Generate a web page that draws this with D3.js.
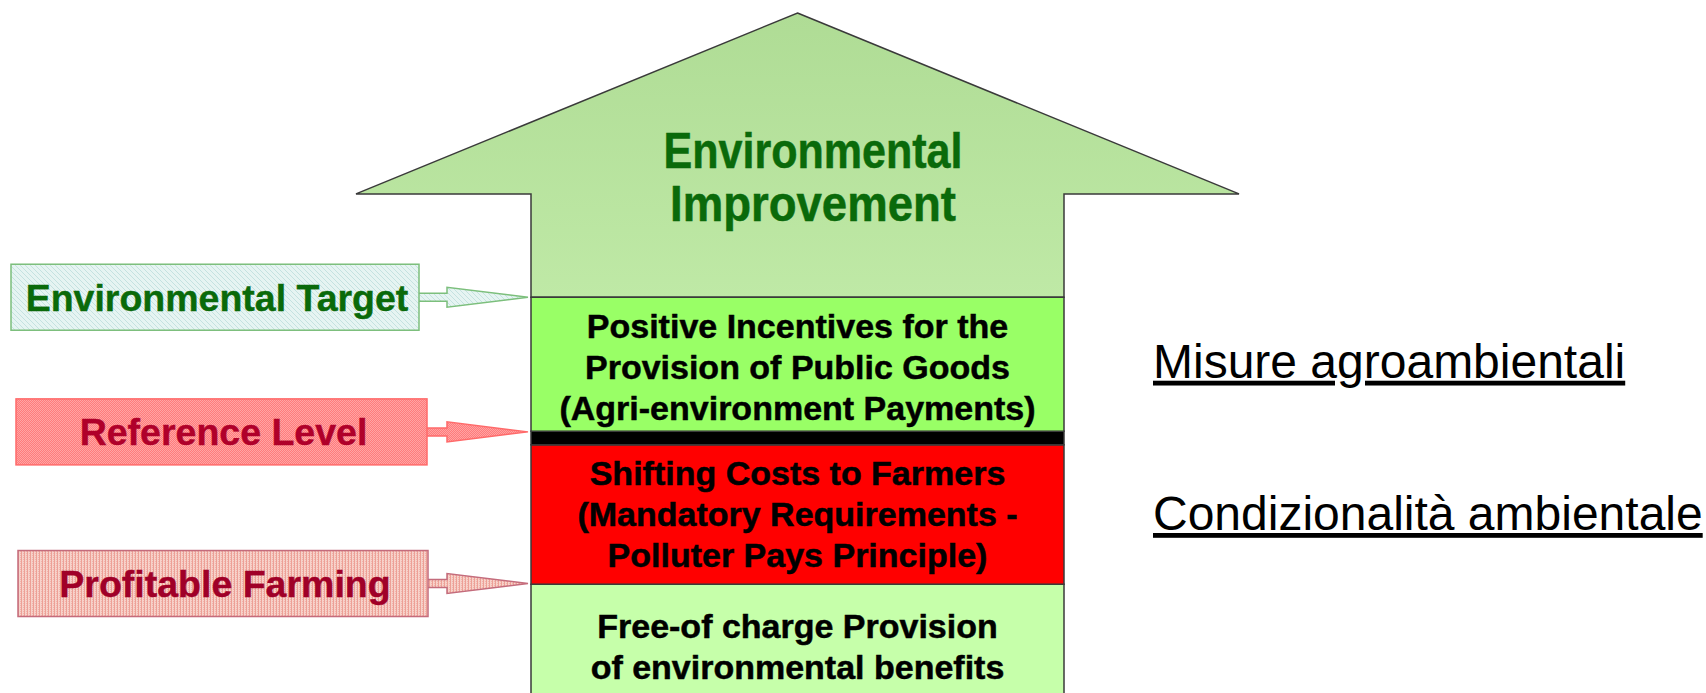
<!DOCTYPE html>
<html>
<head>
<meta charset="utf-8">
<script src="https://cdn.jsdelivr.net/npm/d3@7"></script>
<style>
  html, body { margin: 0; padding: 0; background: #fff; overflow: hidden; }
  svg { display: block; }
</style>
</head>
<body>
<div id="chart"></div>
<script>
// levels along the big arrow: 0 = bottom of picture, 100 = arrow tip
const bandNames = ['free', 'shifting', 'threshold', 'incentives', 'improvement'];
const bandFrom = [-2.5, 16.0, 36.5, 38.5, 58.2];
const bandTo = [16.0, 36.5, 38.5, 58.2, 73.4];
const bandLines = [
  ['Free-of charge Provision', 'of environmental benefits'],
  ['Shifting Costs to Farmers', '(Mandatory Requirements -', 'Polluter Pays Principle)'],
  [],
  ['Positive Incentives for the', 'Provision of Public Goods', '(Agri-environment Payments)'],
  ['Environmental', 'Improvement']
];
const tipLevel = 100;

const markerLabels = ['Environmental Target', 'Reference Level', 'Profitable Farming'];
const markerLevels = [58.2, 38.4, 16.1];

const noteLabels = ['Misure agroambientali', 'Condizionalità ambientale'];
const noteBands = ['incentives', 'shifting'];

// styles
const bandFill = {
  free: '#c6ffaa', shifting: '#ff0000', threshold: '#000000',
  incentives: '#99ff66', improvement: 'url(#topGrad)'
};
const markerStyle = [
  { fill: 'url(#patEnv)', stroke: '#7cbf7c', text: '#0a6a0a', x0: 11, x1: 419 },
  { fill: 'url(#patRef)', stroke: '#ff6a6a', text: '#b0002a', x0: 16, x1: 427 },
  { fill: 'url(#patProf)', stroke: '#c46c7c', text: '#a00028', x0: 18, x1: 428 }
];

const W = 1706, H = 693;
const cx = 797.5, shaftHalf = 266.5, headHalf = 441.5;

const svg = d3.select('#chart').append('svg')
  .attr('width', W).attr('height', H);

const y = d3.scaleLinear().domain([0, 100]).range([H, 13]);

const defs = svg.append('defs');
let grad = defs.append('linearGradient').attr('id', 'topGrad')
  .attr('x1', 0).attr('y1', 0).attr('x2', 0).attr('y2', 1);
grad.append('stop').attr('offset', '0%').attr('stop-color', '#afdc95');
grad.append('stop').attr('offset', '100%').attr('stop-color', '#bfe9a6');

let p1 = defs.append('pattern').attr('id', 'patEnv').attr('patternUnits', 'userSpaceOnUse')
  .attr('width', 5).attr('height', 5);
p1.append('rect').attr('width', 5).attr('height', 5).attr('fill', '#e6f4f2');
p1.append('path').attr('d', 'M0,0L5,5M-1,4L1,6M4,-1L6,1').attr('stroke', '#c4e2e0').attr('stroke-width', 1);

let p2 = defs.append('pattern').attr('id', 'patRef').attr('patternUnits', 'userSpaceOnUse')
  .attr('width', 2).attr('height', 2);
p2.append('rect').attr('width', 2).attr('height', 2).attr('fill', '#ff7b7b');
p2.append('rect').attr('width', 1).attr('height', 1).attr('fill', '#ffa4a4');
p2.append('rect').attr('x', 1).attr('y', 1).attr('width', 1).attr('height', 1).attr('fill', '#ffa4a4');

let p3 = defs.append('pattern').attr('id', 'patProf').attr('patternUnits', 'userSpaceOnUse')
  .attr('width', 3).attr('height', 2);
p3.append('rect').attr('width', 3).attr('height', 2).attr('fill', '#f7d2ca');
p3.append('rect').attr('width', 1).attr('height', 2).attr('fill', '#eda096');
p3.append('rect').attr('x', 2).attr('y', 1).attr('width', 1).attr('height', 1).attr('fill', '#f0b4ac');

// head + top band
let headBase = y(bandTo[4]);
svg.append('path')
  .attr('d', d3.line()([
    [cx, y(tipLevel)], [cx + headHalf, headBase], [cx + shaftHalf, headBase],
    [cx + shaftHalf, y(bandFrom[4])], [cx - shaftHalf, y(bandFrom[4])],
    [cx - shaftHalf, headBase], [cx - headHalf, headBase]
  ]) + 'Z')
  .attr('fill', bandFill.improvement)
  .attr('stroke', '#3a3a3a').attr('stroke-width', 1.5).attr('stroke-linejoin', 'miter');

// shaft bands
let bandData = bandNames.map((n, i) => ({ name: n, from: bandFrom[i], to: bandTo[i], lines: bandLines[i] }));

svg.selectAll('rect.band')
  .data(bandData.filter(d => d.name !== 'improvement'))
  .enter().append('rect')
  .attr('class', 'band')
  .attr('x', cx - shaftHalf)
  .attr('y', d => y(d.to))
  .attr('width', shaftHalf * 2)
  .attr('height', d => y(d.from) - y(d.to))
  .attr('fill', d => bandFill[d.name])
  .attr('stroke', '#3a3a3a').attr('stroke-width', 1.5);

// band texts
bandData.forEach(function(d) {
  if (!d.lines.length) return;
  let isTop = d.name === 'improvement';
  let fs = isTop ? 50 : 34;
  let lh = isTop ? 52.5 : 41;
  let mid = isTop ? 177 : (y(d.from) + y(d.to)) / 2 + (d.name === 'incentives' ? 3 : 0);
  let n = d.lines.length;
  d.lines.forEach(function(line, i) {
    let t = svg.append('text')
      .attr('x', isTop ? 813 : cx)
      .attr('y', mid + (i - (n - 1) / 2) * lh + (isTop ? 17.5 : 11.5))
      .attr('text-anchor', 'middle')
      .attr('font-family', isTop ? '"Liberation Sans Narrow", "Liberation Sans", Arial, sans-serif' : '"Liberation Sans", Arial, sans-serif')
      .attr('font-weight', 'bold')
      .attr('font-size', fs)
      .attr('fill', isTop ? '#0a6a0a' : '#000')
      .attr('stroke', isTop ? '#0a6a0a' : '#000')
      .attr('stroke-width', 0.5)
      .text(line);
    if (isTop) {
      t.attr('textLength', i === 0 ? 299 : 286).attr('lengthAdjust', 'spacingAndGlyphs');
    }
  });
});

// marker boxes with arrows
let tipX = cx - shaftHalf - 3, headStart = 447;
markerLabels.forEach(function(label, i) {
  let s = markerStyle[i];
  let my = y(markerLevels[i]);
  let g = svg.append('g').attr('class', 'marker');
  g.append('path')
    .attr('d', d3.line()([
      [s.x1, my - 4], [headStart, my - 4], [headStart, my - 10], [tipX, my],
      [headStart, my + 10], [headStart, my + 4], [s.x1, my + 4]
    ]))
    .attr('fill', s.fill).attr('stroke', s.stroke).attr('stroke-width', 1.5);
  g.append('rect')
    .attr('x', s.x0).attr('y', my - 33)
    .attr('width', s.x1 - s.x0).attr('height', 66)
    .attr('fill', s.fill).attr('stroke', s.stroke).attr('stroke-width', 1.5);
  g.append('text')
    .attr('x', (s.x0 + s.x1) / 2 + 2)
    .attr('y', my + 13.5)
    .attr('text-anchor', 'middle')
    .attr('font-family', '"Liberation Sans", Arial, sans-serif')
    .attr('font-weight', 'bold')
    .attr('font-size', 37.5)
    .attr('fill', s.text)
    .attr('stroke', s.text).attr('stroke-width', 0.4)
    .text(label);
});

// notes on the right
noteLabels.forEach(function(label, i) {
  let b = bandData.find(d => d.name === noteBands[i]);
  let my = (y(b.from) + y(b.to)) / 2;
  svg.append('text')
    .attr('x', 1153)
    .attr('y', my + 13.5 + (i === 1 ? 2 : 0))
    .attr('font-family', '"Liberation Sans", Arial, sans-serif')
    .attr('font-size', 48)
    .attr('text-decoration', 'underline')
    .attr('fill', '#000')
    .text(label);
});
</script>
</body>
</html>
